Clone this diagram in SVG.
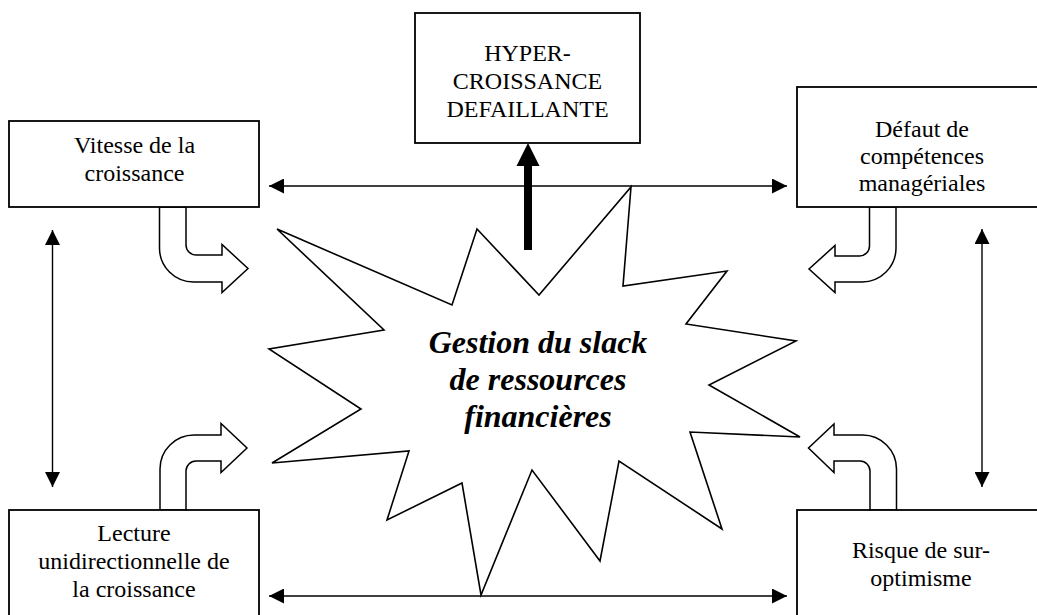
<svg xmlns="http://www.w3.org/2000/svg" width="1037" height="615" viewBox="0 0 1037 615">
<style>
.box{fill:#fff;stroke:#000;stroke-width:1.8}
.lbl{font-family:"Liberation Serif","Times New Roman",serif;font-size:24px;fill:#000;text-anchor:middle}
.core{font-family:"Liberation Serif","Times New Roman",serif;font-size:32px;font-weight:bold;font-style:italic;fill:#000;text-anchor:middle}
.link{stroke:#000;stroke-width:1.4;fill:none;marker-start:url(#ah);marker-end:url(#ah)}
.bend{fill:#fff;stroke:#000;stroke-width:1.5;stroke-linejoin:miter}
.star{fill:#fff;stroke:#000;stroke-width:1.6;stroke-linejoin:miter}
</style>
<defs>
<marker id="ah" viewBox="0 0 15 15" refX="15" refY="7.5" markerWidth="15" markerHeight="15" markerUnits="userSpaceOnUse" orient="auto-start-reverse">
<path d="M0,0 L15,7.5 L0,15 Z" fill="#000"/>
</marker>
</defs>
<rect width="1037" height="615" fill="#fff"/>
<g id="connectors">
<line class="link" x1="269" y1="186" x2="787" y2="186"/>
<line class="link" x1="269" y1="596" x2="787" y2="596"/>
<line class="link" x1="52.5" y1="230" x2="52.5" y2="487"/>
<line class="link" x1="982" y1="229" x2="982" y2="487"/>
<path class="bend" d="M159.5,207 V248 A34 34 0 0 0 193.5,282 H222 V292.5 L248,268.5 L222,244.5 V255 H196 A10 10 0 0 1 186,245 V207 Z"/>
<path class="bend" d="M896,207 V248 A34 34 0 0 1 862,282 H835 V292.5 L809,269 L835,245.5 V256 H859.5 A10 10 0 0 0 869.5,246 V207 Z"/>
<path class="bend" d="M160,510 V469 A34 34 0 0 1 194,435 H221 V423.5 L247,448 L221,472.5 V461 H196 A10 10 0 0 0 186,471 V510 Z"/>
<path class="bend" d="M896.5,510 V469 A34 34 0 0 0 862.5,435 H834 V424 L808.5,448 L834,472.5 V461 H860 A10 10 0 0 1 870,471 V510 Z"/>
<path d="M524,250 V166 H516.5 L528,143 L539.5,166 H532 V250 Z" fill="#000"/>
</g>
<g id="core">
<polygon class="star" points="277,229 452,305 477,229 539,295 631,187 623,286 727,271 686,324 796,341 709,385 800,437 690,432 722,529 619,461 600,561 532,470 481,595 462,483 387,520 409,451 272,463 361,409 269,349 384,330"/>
<text class="core" x="538" y="353">Gestion du slack</text>
<text class="core" x="538" y="390">de ressources</text>
<text class="core" x="538" y="427">financières</text>
</g>
<g id="hyper">
<rect class="box" x="415" y="13" width="225" height="130"/>
<text class="lbl" x="527.5" y="61">HYPER-</text>
<text class="lbl" x="527.5" y="89">CROISSANCE</text>
<text class="lbl" x="527.5" y="117">DEFAILLANTE</text>
</g>
<g id="vitesse">
<rect class="box" x="9" y="121" width="250" height="86"/>
<text class="lbl" x="134.5" y="153">Vitesse de la</text>
<text class="lbl" x="134.5" y="181">croissance</text>
</g>
<g id="defaut">
<rect class="box" x="797" y="87" width="252" height="120"/>
<text class="lbl" x="922" y="137">Défaut de</text>
<text class="lbl" x="922" y="164">compétences</text>
<text class="lbl" x="922" y="191">managériales</text>
</g>
<g id="lecture">
<rect class="box" x="9" y="510" width="250" height="120"/>
<text class="lbl" x="134" y="541">Lecture</text>
<text class="lbl" x="134" y="569">unidirectionnelle de</text>
<text class="lbl" x="134" y="597">la croissance</text>
</g>
<g id="risque">
<rect class="box" x="797" y="510" width="252" height="120"/>
<text class="lbl" x="921" y="558">Risque de sur-</text>
<text class="lbl" x="921" y="586">optimisme</text>
</g>
</svg>
